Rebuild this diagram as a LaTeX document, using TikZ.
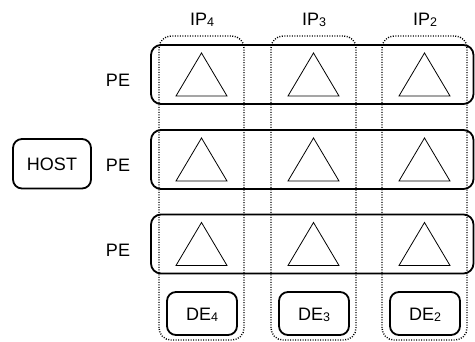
\documentclass[tikz,border=0pt]{standalone}
\usepackage{fontspec}
\setmainfont{Liberation Sans}
\begin{document}
\begin{tikzpicture}[x=1pt,y=-1pt,
  lbl/.style={font=\fontsize{18}{18}\selectfont, inner sep=0pt},
  rowbox/.style={draw, line width=1.8pt, rounded corners=10pt},
  colbox/.style={draw, line width=1.4pt, dash pattern=on 1pt off 1.5pt, rounded corners=12pt},
  debox/.style={draw, line width=1.8pt, rounded corners=9pt},
  pe/.style={draw, line width=0.8pt}
]
\newcommand{\sbs}[1]{\raisebox{-1.2pt}{\fontsize{12.5}{12.5}\selectfont #1}}
\useasboundingbox (0,0) rectangle (475,342);

% host
\draw[debox] (13,139) rectangle (91,188.5);
\node[lbl] (host) at (52,164) {HOST};

% column groupings (IP / DE lanes)
\foreach \cx [count=\i] in {201.5,313.5,424.5} {
  \draw[colbox] (\cx-42.5,340) rectangle (\cx+42.5,36);
}

% rows of processing elements
\foreach \ry [count=\r] in {74.5,159.5,244} {
  \draw[rowbox] (151,\ry-29.5) rectangle (473.5,\ry+29.5);
  \node[lbl] (pe\r) at (118,\ry+6) {PE};
  \foreach \cx [count=\c] in {201.5,313.5,424.5} {
    \draw[pe] (\cx,\ry-21.5) -- (\cx+25.5,\ry+21.5) -- (\cx-25.5,\ry+21.5) -- cycle;
  }
}

% lane labels
\node[lbl] (ip4) at (202,20) {IP\sbs{4}};
\node[lbl] (ip3) at (314,20) {IP\sbs{3}};
\node[lbl] (ip2) at (425,20) {IP\sbs{2}};

% data engines
\foreach \cx/\k in {202/4,314/3,425/2} {
  \draw[debox] (\cx-35,292) rectangle (\cx+35,335);
  \node[lbl] (de\k) at (\cx,314.5) {DE\sbs{\k}};
}
\end{tikzpicture}
\end{document}
